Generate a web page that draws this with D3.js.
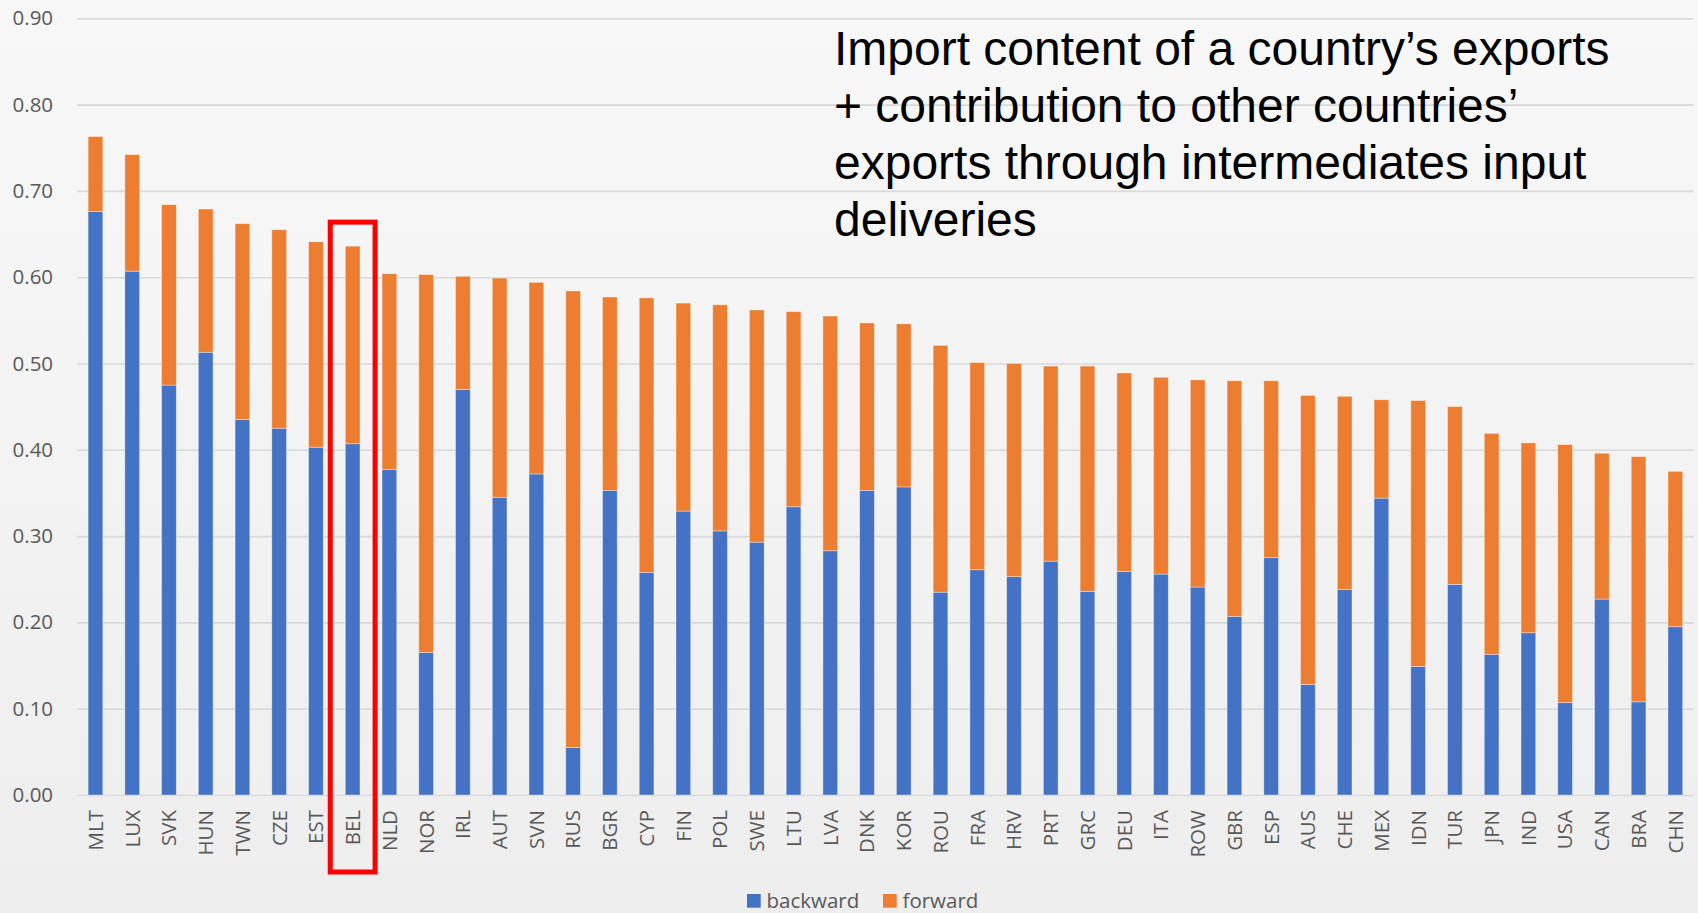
<!DOCTYPE html>
<html>
<head>
<meta charset="utf-8">
<script src="https://cdn.jsdelivr.net/npm/d3@7"></script>
<style>
  html, body { margin: 0; padding: 0; overflow: hidden; }
  svg { display: block; }
</style>
</head>
<body>
<svg id="chart" width="1698" height="913"></svg>
<script>
// Country codes, ordered by total participation
const categories = ["MLT","LUX","SVK","HUN","TWN","CZE","EST","BEL","NLD","NOR","IRL","AUT","SVN","RUS","BGR","CYP","FIN","POL","SWE","LTU","LVA","DNK","KOR","ROU","FRA","HRV","PRT","GRC","DEU","ITA","ROW","GBR","ESP","AUS","CHE","MEX","IDN","TUR","JPN","IND","USA","CAN","BRA","CHN"];

// Backward participation: import content of exports
const backward = [0.676,0.607,0.475,0.513,0.435,0.425,0.403,0.407,0.377,0.165,0.470,0.345,0.372,0.055,0.353,0.258,0.329,0.306,0.293,0.334,0.283,0.353,0.357,0.235,0.261,0.253,0.271,0.236,0.259,0.256,0.241,0.207,0.275,0.128,0.238,0.344,0.149,0.244,0.163,0.188,0.107,0.227,0.108,0.195];

// Forward participation: contribution to other countries' exports
const forward = [0.087,0.135,0.209,0.166,0.227,0.230,0.238,0.229,0.227,0.438,0.131,0.254,0.222,0.529,0.224,0.318,0.241,0.262,0.269,0.226,0.272,0.194,0.189,0.286,0.240,0.247,0.226,0.261,0.230,0.228,0.240,0.273,0.205,0.335,0.224,0.114,0.308,0.206,0.256,0.220,0.299,0.169,0.284,0.180];

const seriesNames = ["backward", "forward"];
const seriesColors = ["#4472C4", "#ED7D31"];
const yTicks = [0, 0.1, 0.2, 0.3, 0.4, 0.5, 0.6, 0.7, 0.8, 0.9];
const highlighted = "BEL";
const titleLines = [
  "Import content of a country\u2019s exports",
  "+ contribution to other countries\u2019",
  "exports through intermediates input",
  "deliveries"
];

const W = 1698, H = 913;
const margin = { top: 18.3, left: 77.1, right: 4.3, bottom: 118 };
const innerW = W - margin.left - margin.right;
const innerH = H - margin.top - margin.bottom;

const svg = d3.select("#chart");

// soft grey backdrop
const defs = svg.append("defs");
const grad = defs.append("linearGradient").attr("id", "bg").attr("x1", 0).attr("y1", 0).attr("x2", 0).attr("y2", 1);
grad.append("stop").attr("offset", "0%").attr("stop-color", "#f8f8f8");
grad.append("stop").attr("offset", "100%").attr("stop-color", "#eeeeee");
svg.append("rect").attr("width", W).attr("height", H).attr("fill", "url(#bg)");

const g = svg.append("g").attr("transform", `translate(${margin.left},${margin.top})`);

const x = d3.scaleBand().domain(categories).range([0, innerW]).paddingInner(0.6).paddingOuter(0.3);
const y = d3.scaleLinear().domain([0, 0.9]).range([innerH, 0]);

// horizontal gridlines + y labels
const yAxis = d3.axisLeft(y).tickValues(yTicks).tickFormat(d3.format(".2f")).tickSize(-innerW).tickPadding(24);
const ya = g.append("g").call(yAxis);
ya.select(".domain").remove();
ya.selectAll(".tick line").attr("stroke", "#d9d9d9").attr("stroke-width", 1.6);
ya.selectAll(".tick text")
  .attr("fill", "#595959")
  .style("font-family", "'Open Sans', sans-serif")
  .style("font-size", "20.5px");

// stacked bars
const rows = categories.map((c, i) => ({ country: c, backward: backward[i], forward: forward[i] }));
const stacked = d3.stack().keys(seriesNames)(rows);

g.append("g").selectAll("g")
  .data(stacked)
  .join("g")
  .attr("fill", (d, i) => seriesColors[i])
  .selectAll("rect")
  .data(d => d)
  .join("rect")
  .attr("x", d => x(d.data.country))
  .attr("width", x.bandwidth())
  .attr("y", d => y(d[1]))
  .attr("height", d => y(d[0]) - y(d[1]))
  .attr("stroke", "rgba(255,255,255,0.45)")
  .attr("stroke-width", 0.8);

// category labels, rotated
const xAxis = d3.axisBottom(x).tickSize(0).tickPadding(0);
const xa = g.append("g").attr("transform", `translate(0,${innerH})`).call(xAxis);
xa.select(".domain").remove();
xa.selectAll(".tick text")
  .attr("fill", "#595959")
  .style("font-family", "'Open Sans', sans-serif")
  .style("font-size", "20.5px")
  .attr("text-anchor", "end")
  .attr("transform", "rotate(-90)")
  .attr("x", -15)
  .attr("y", 0)
  .attr("dy", "0.36em");

// highlight frame around the selected country
const hi = categories.indexOf(highlighted);
const hiTotal = backward[hi] + forward[hi];
const cx = x(highlighted) + x.bandwidth() / 2;
const halfW = x.step() * 0.61;
const boxTop = y(hiTotal) - 24;
const boxBottom = innerH + 77;
g.append("rect")
  .attr("x", cx - halfW)
  .attr("y", boxTop)
  .attr("width", halfW * 2)
  .attr("height", boxBottom - boxTop)
  .attr("fill", "none")
  .attr("stroke", "#ff0000")
  .attr("stroke-width", 5);

// annotation text
const title = svg.append("text")
  .attr("x", 834)
  .attr("y", 65)
  .attr("fill", "#000")
  .style("font-family", "'Liberation Sans', Arial, sans-serif")
  .style("font-size", "48px");
titleLines.forEach((t, i) => {
  title.append("tspan").attr("x", 834).attr("y", 65 + i * 57).text(t);
});

// legend
const legend = svg.append("g").attr("transform", "translate(747,894)");
const legendOffsets = [0, 136];
seriesNames.forEach((name, i) => {
  const item = legend.append("g").attr("transform", `translate(${legendOffsets[i]},0)`);
  item.append("rect").attr("width", 13.7).attr("height", 13.7).attr("fill", seriesColors[i]);
  item.append("text")
    .attr("x", 19.5)
    .attr("y", 13.7)
    .attr("fill", "#595959")
    .style("font-family", "'Open Sans', sans-serif")
    .style("font-size", "20.5px")
    .text(name);
});
</script>
</body>
</html>
